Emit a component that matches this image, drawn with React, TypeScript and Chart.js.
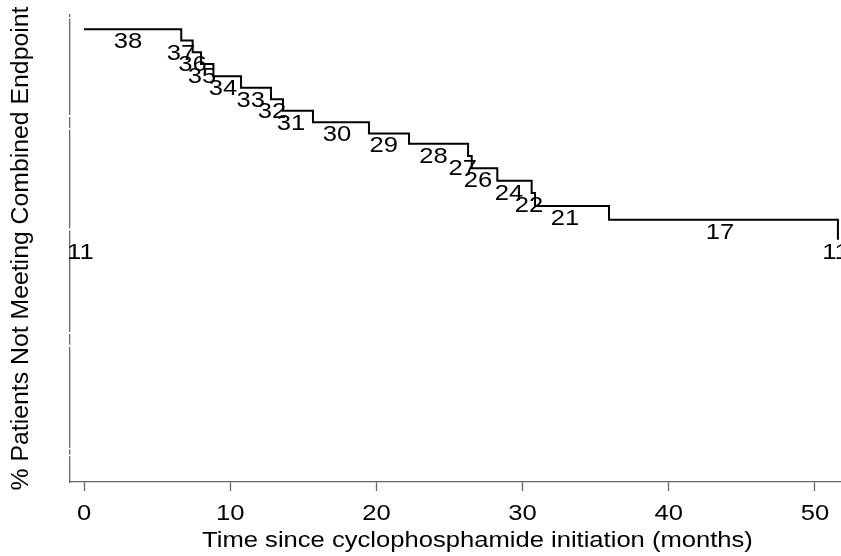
import { useEffect, useRef } from 'react';
import { Chart, registerables } from 'chart.js';

Chart.register(...registerables);

const FONT = "'Liberation Sans', Arial, Helvetica, sans-serif";
const TEXT_SIZE = 21.5;
const STRETCH = 1.19;

// Kaplan-Meier step curve: level holds from each time until the next
const stepTimes = [0, 6.65, 7.43, 8.0, 8.85, 10.74, 12.79, 13.61, 15.66, 19.49, 22.23, 26.27, 26.52, 28.27, 30.62, 30.85, 35.91, 51.57];
const survival = [0.974, 0.948, 0.921, 0.894, 0.866, 0.839, 0.813, 0.786, 0.760, 0.734, 0.710, 0.682, 0.654, 0.625, 0.597, 0.567, 0.535, 0.489];

// numbers at risk written along the curve
const riskText = ['38', '37', '36', '35', '34', '33', '32', '31', '30', '29', '28', '27', '26', '24', '22', '21', '17', '11', '11'];
const riskX = [3.0, 6.63, 7.42, 8.07, 9.5, 11.4, 12.86, 14.16, 17.3, 20.5, 23.9, 25.9, 26.95, 29.07, 30.44, 32.9, 43.5, -0.25, 51.4];
const riskLevel = [0.974, 0.948, 0.921, 0.894, 0.866, 0.839, 0.813, 0.786, 0.760, 0.734, 0.710, 0.682, 0.654, 0.625, 0.597, 0.567, 0.535, 0.489, 0.489];

const xTickValues = [0, 10, 20, 30, 40, 50];
const yTickValues = [0, 0.25, 0.5, 0.75, 1];
const yTickText = ['0', '.25', '.5', '.75', '1'];

const xTitle = 'Time since cyclophosphamide initiation (months)';
const yTitle = '% Patients Not Meeting Combined Endpoint';

function drawWide(ctx: CanvasRenderingContext2D, text: string, cx: number, baseline: number) {
  ctx.save();
  ctx.translate(cx, baseline);
  ctx.scale(STRETCH, 1);
  ctx.font = `${TEXT_SIZE}px ${FONT}`;
  ctx.fillStyle = '#000';
  ctx.textAlign = 'center';
  ctx.textBaseline = 'alphabetic';
  ctx.fillText(text, 0, 0);
  ctx.restore();
}

export default function App() {
  const ref = useRef<HTMLCanvasElement>(null);

  useEffect(() => {
    if (!ref.current) return;

    const textPlugin = {
      id: 'kmText',
      afterDatasetsDraw(chart: any) {
        const { ctx } = chart;
        const x = chart.scales.x;
        const y = chart.scales.y;
        riskText.forEach((t, i) => {
          drawWide(ctx, t, x.getPixelForValue(riskX[i]), y.getPixelForValue(riskLevel[i]) + 19);
        });
      },
      afterDraw(chart: any) {
        const { ctx, chartArea } = chart;
        const x = chart.scales.x;
        const y = chart.scales.y;
        // x tick labels
        xTickValues.forEach((v) => {
          drawWide(ctx, String(v), x.getPixelForValue(v), chartArea.bottom + 38);
        });
        // x title
        drawWide(ctx, xTitle, (x.getPixelForValue(-0.96) + x.getPixelForValue(51.78)) / 2 + 22, chartArea.bottom + 65);
        // y title
        ctx.save();
        ctx.translate(21, (chartArea.top + chartArea.bottom) / 2);
        ctx.rotate(-Math.PI / 2);
        ctx.font = `24.8px ${FONT}`;
        ctx.fillStyle = '#000';
        ctx.textAlign = 'center';
        ctx.textBaseline = 'middle';
        ctx.fillText(yTitle, 0, 0);
        ctx.restore();
        // white (invisible) y tick labels over the axis line
        ctx.save();
        ctx.font = `18px ${FONT}`;
        ctx.fillStyle = '#fff';
        ctx.textAlign = 'center';
        ctx.textBaseline = 'middle';
        yTickValues.forEach((v, i) => {
          ctx.save();
          ctx.translate(chartArea.left, y.getPixelForValue(v));
          ctx.rotate(-Math.PI / 2);
          ctx.fillText(yTickText[i], 0, 0);
          ctx.restore();
        });
        ctx.restore();
      },
    };

    const chart = new Chart(ref.current, {
      type: 'line',
      data: {
        datasets: [
          {
            data: stepTimes.map((t, i) => ({ x: t, y: survival[i] })),
            stepped: 'before',
            borderColor: '#000',
            borderWidth: 2,
            pointRadius: 0,
            fill: false,
          },
        ],
      },
      options: {
        responsive: false,
        animation: false,
        devicePixelRatio: 1,
        layout: { padding: { top: 15, right: 0, left: 0, bottom: 0 } },
        plugins: { legend: { display: false }, tooltip: { enabled: false } },
        scales: {
          x: {
            type: 'linear',
            min: -0.96,
            max: 51.78,
            afterBuildTicks: (s: any) => {
              s.ticks = xTickValues.map((v) => ({ value: v }));
            },
            afterFit: (s: any) => {
              s.height = 74;
            },
            grid: { drawOnChartArea: false, drawTicks: true, tickLength: 9, tickColor: '#666', tickWidth: 1.3 },
            border: { display: true, color: '#666', width: 1.3 },
            ticks: {
              color: 'rgba(0,0,0,0)',
              maxRotation: 0,
              font: { family: FONT, size: 12 },
            },
          },
          y: {
            type: 'linear',
            min: -0.0691,
            max: 1.0069,
            afterFit: (s: any) => {
              s.width = 70;
            },
            grid: { display: false },
            border: { display: true, color: '#666', width: 1.3 },
            ticks: { display: false },
          },
        },
      },
      plugins: [textPlugin],
    });

    return () => chart.destroy();
  }, []);

  return (
    <div style={{ position: 'absolute', left: 0, top: 0, width: 841, height: 556, background: '#fff' }}>
      <canvas ref={ref} width={841} height={556} style={{ display: 'block', width: 841, height: 556 }} />
    </div>
  );
}
